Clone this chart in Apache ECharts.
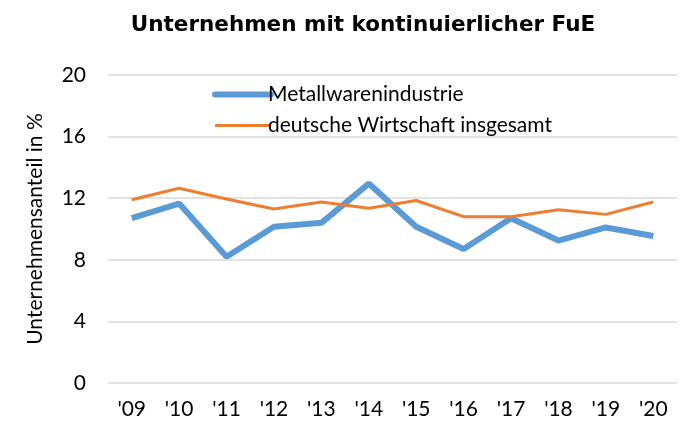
<!DOCTYPE html>
<html>
<head>
<meta charset="UTF-8">
<script src="https://cdn.jsdelivr.net/npm/echarts@6/dist/echarts.min.js"></script>
<style>
  html, body { margin: 0; padding: 0; background: #fff; }
  #chart { width: 684px; height: 425px; }
</style>
</head>
<body>
<div id="chart"></div>
<script>
// Daten
const years = ["'09", "'10", "'11", "'12", "'13", "'14", "'15", "'16", "'17", "'18", "'19", "'20"];
const metallwaren = [10.7, 11.65, 8.2, 10.15, 10.4, 12.95, 10.15, 8.7, 10.7, 9.25, 10.1, 9.55];
const wirtschaft = [11.9, 12.65, 11.95, 11.3, 11.75, 11.35, 11.85, 10.8, 10.8, 11.25, 10.95, 11.75];
const yTicks = [0, 4, 8, 12, 16, 20];

const font = 'Lato, "Open Sans", sans-serif';
const chart = echarts.init(document.getElementById('chart'));

chart.setOption({
  animation: false,
  title: {
    text: 'Unternehmen mit kontinuierlicher FuE',
    left: 358, top: 9, textAlign: 'center',
    textStyle: { fontFamily: '"DejaVu Sans", sans-serif', fontWeight: 'bold', fontSize: 21.5, color: '#000' }
  },
  legend: {
    orient: 'vertical',
    left: 207, top: 79,
    itemWidth: 56, itemHeight: 14, itemGap: 10,
    itemStyle: { opacity: 0 },
    textStyle: { fontFamily: font, fontSize: 21, color: '#000', padding: [0, 0, 0, -8] },
    data: [
      { name: 'Metallwarenindustrie', lineStyle: { width: 6, cap: 'round' } },
      { name: 'deutsche Wirtschaft insgesamt', lineStyle: { width: 3 } }
    ]
  },
  grid: { left: 108, right: 7, top: 75, bottom: 42 },
  xAxis: {
    type: 'category',
    data: years,
    boundaryGap: true,
    axisLine: { show: false },
    axisTick: { show: false },
    axisLabel: { fontFamily: font, fontSize: 21, color: '#000', margin: 16 }
  },
  yAxis: {
    type: 'value',
    min: yTicks[0], max: yTicks[yTicks.length - 1], interval: 4,
    name: 'Unternehmensanteil in %',
    nameLocation: 'middle',
    nameGap: 62,
    nameTextStyle: { fontFamily: font, fontSize: 21, color: '#000' },
    axisLine: { show: false },
    axisTick: { show: false },
    axisLabel: { fontFamily: font, fontSize: 21, color: '#000', margin: 22 },
    splitLine: { lineStyle: { color: '#D9D9D9', width: 1.5 } }
  },
  series: [
    {
      name: 'Metallwarenindustrie',
      type: 'line',
      data: metallwaren,
      symbol: 'none',
      lineStyle: { color: '#5B9BD5', width: 6 },
      itemStyle: { color: '#5B9BD5' }
    },
    {
      name: 'deutsche Wirtschaft insgesamt',
      type: 'line',
      data: wirtschaft,
      symbol: 'none',
      lineStyle: { color: '#ED7D31', width: 3 },
      itemStyle: { color: '#ED7D31' }
    }
  ]
});
</script>
</body>
</html>
